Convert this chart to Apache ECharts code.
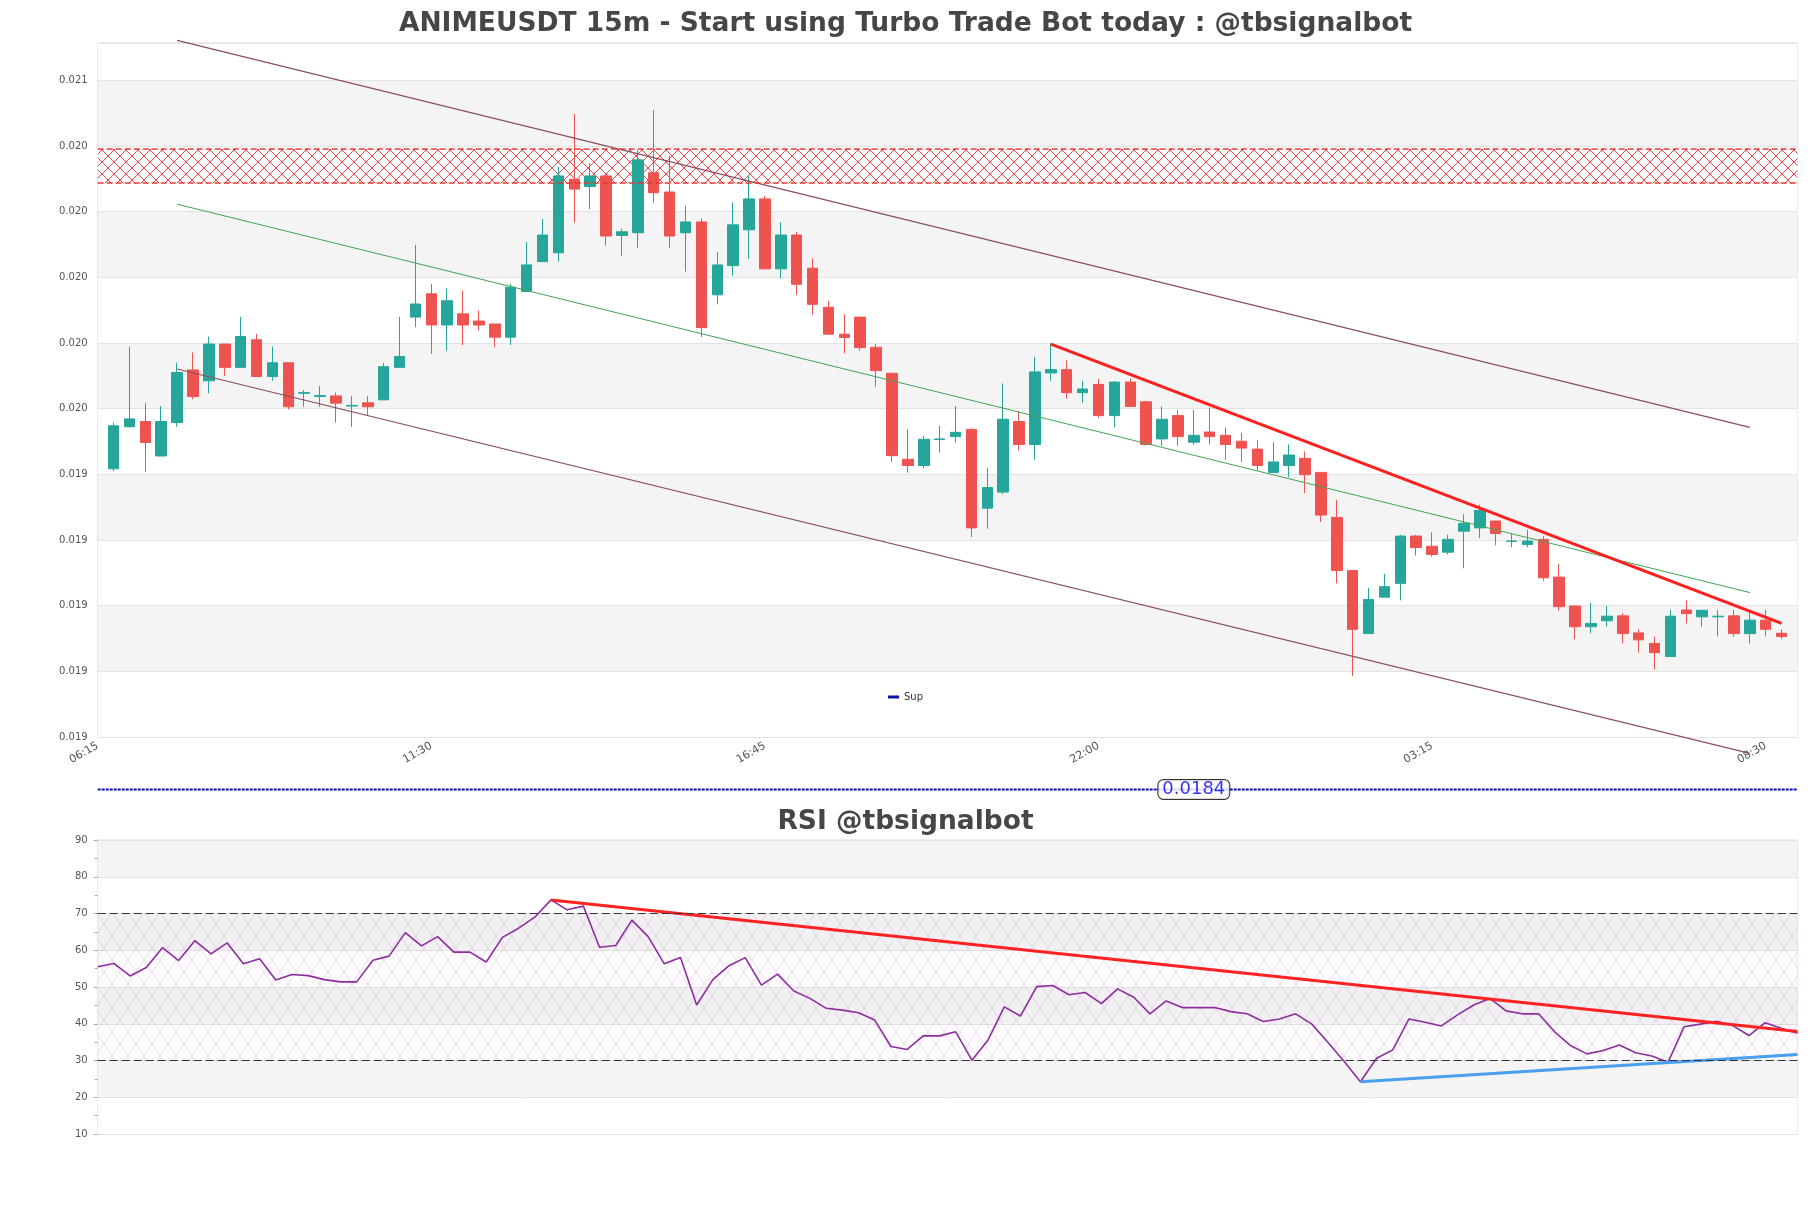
<!DOCTYPE html>
<html><head><meta charset="utf-8">
<script src="https://cdn.jsdelivr.net/npm/echarts/dist/echarts.min.js"></script>
<style>html,body{margin:0;padding:0;background:#fff}#c{width:1811px;height:1208px}</style>
</head><body><div id="c"></div>
<script>
// ---------- data ----------
const mainTitle = 'ANIMEUSDT 15m - Start using Turbo Trade Bot today : @tbsignalbot';
const rsiTitle = 'RSI @tbsignalbot';
const startTime = [6, 15];       // first axis slot 06:15
const stepMinutes = 15;
const slotCount = 108;           // axis slots on the price chart
const firstCandleSlot = 1;

const opens = [0.019417,0.019545,0.019561,0.019456,0.019558,0.019718,0.019685,0.019797,0.019726,0.019810,
 0.019698,0.019740,0.019647,0.019637,0.019639,0.019608,0.019618,0.019627,0.019726,0.019879,
 0.019950,0.019855,0.019889,0.019867,0.019858,0.019818,0.019957,0.020048,0.020075,0.020299,
 0.020277,0.020309,0.020128,0.020136,0.020319,0.020260,0.020136,0.020169,0.019947,0.020036,
 0.020145,0.020239,0.020026,0.020129,0.020028,0.019909,0.019827,0.019879,0.019787,0.019708,
 0.019446,0.019427,0.019506,0.019515,0.019537,0.019297,0.019346,0.019561,0.019491,0.019709,
 0.019719,0.019649,0.019674,0.019579,0.019681,0.019621,0.019508,0.019579,0.019498,0.019529,
 0.019519,0.019501,0.019477,0.019406,0.019427,0.019449,0.019406,0.019269,0.019107,0.018915,
 0.019026,0.019068,0.019212,0.019181,0.019163,0.019227,0.019237,0.019258,0.019196,0.019186,
 0.019202,0.019087,0.018999,0.018936,0.018954,0.018969,0.018917,0.018885,0.018845,0.018987,
 0.018966,0.018966,0.018969,0.018915,0.018956,0.018916];
const closes = [0.019548,0.019569,0.019497,0.019561,0.019710,0.019637,0.019797,0.019726,0.019820,0.019698,
 0.019740,0.019606,0.019649,0.019640,0.019617,0.019610,0.019606,0.019728,0.019759,0.019919,
 0.019855,0.019929,0.019855,0.019855,0.019818,0.019970,0.020038,0.020129,0.020309,0.020269,
 0.020309,0.020126,0.020139,0.020358,0.020258,0.020126,0.020169,0.019847,0.020038,0.020160,
 0.020239,0.020026,0.020129,0.019979,0.019918,0.019827,0.019817,0.019786,0.019716,0.019457,
 0.019427,0.019507,0.019508,0.019528,0.019237,0.019360,0.019568,0.019491,0.019712,0.019719,
 0.019649,0.019660,0.019579,0.019681,0.019607,0.019491,0.019568,0.019515,0.019519,0.019515,
 0.019491,0.019480,0.019427,0.019438,0.019459,0.019399,0.019276,0.019107,0.018928,0.019019,
 0.019058,0.019212,0.019177,0.019156,0.019202,0.019251,0.019290,0.019220,0.019197,0.019197,
 0.019085,0.018997,0.018936,0.018946,0.018968,0.018915,0.018896,0.018857,0.018968,0.018976,
 0.018986,0.018968,0.018915,0.018956,0.018928,0.018906];
const lows = [0.019410,0.019543,0.019407,0.019456,0.019545,0.019629,0.019647,0.019700,0.019726,0.019698,
 0.019685,0.019598,0.019606,0.019606,0.019558,0.019545,0.019578,0.019627,0.019726,0.019848,
 0.019767,0.019777,0.019794,0.019838,0.019787,0.019794,0.019957,0.020048,0.020048,0.020167,
 0.020208,0.020097,0.020066,0.020089,0.020228,0.020089,0.020018,0.019818,0.019918,0.020005,
 0.020056,0.020026,0.019997,0.019947,0.019886,0.019827,0.019769,0.019777,0.019667,0.019437,
 0.019405,0.019419,0.019466,0.019497,0.019209,0.019234,0.019339,0.019473,0.019445,0.019685,
 0.019631,0.019618,0.019572,0.019543,0.019607,0.019487,0.019487,0.019487,0.019491,0.019491,
 0.019445,0.019438,0.019410,0.019406,0.019392,0.019343,0.019255,0.019068,0.018786,0.018915,
 0.019026,0.019016,0.019153,0.019149,0.019156,0.019114,0.019206,0.019184,0.019178,0.019178,
 0.019076,0.018985,0.018898,0.018916,0.018936,0.018885,0.018857,0.018806,0.018845,0.018946,
 0.018936,0.018906,0.018906,0.018885,0.018906,0.018898];
const highs = [0.019558,0.019789,0.019618,0.019608,0.019740,0.019771,0.019820,0.019797,0.019880,0.019828,
 0.019789,0.019740,0.019657,0.019669,0.019649,0.019639,0.019639,0.019739,0.019880,0.020099,
 0.019980,0.019967,0.019960,0.019899,0.019858,0.019980,0.020108,0.020178,0.020337,0.020498,
 0.020348,0.020312,0.020148,0.020388,0.020510,0.020370,0.020218,0.020179,0.020077,0.020229,
 0.020312,0.020248,0.020168,0.020138,0.020058,0.019928,0.019888,0.019879,0.019797,0.019708,
 0.019537,0.019517,0.019548,0.019608,0.019540,0.019420,0.019677,0.019593,0.019758,0.019799,
 0.019747,0.019685,0.019691,0.019685,0.019691,0.019624,0.019607,0.019596,0.019596,0.019603,
 0.019543,0.019526,0.019505,0.019498,0.019491,0.019470,0.019406,0.019322,0.019107,0.019054,
 0.019097,0.019216,0.019216,0.019223,0.019216,0.019279,0.019308,0.019258,0.019220,0.019231,
 0.019212,0.019127,0.019001,0.019009,0.018999,0.018977,0.018928,0.018906,0.018987,0.019016,
 0.018986,0.018987,0.018987,0.018985,0.018987,0.018928];

const rsiValues = [55.5,56.4,53.0,55.3,60.7,57.2,62.6,59.0,62.0,56.3,
 57.7,51.9,53.4,53.1,52.0,51.4,51.4,57.3,58.4,64.8,
 61.2,63.7,59.5,59.5,56.8,63.5,66.0,69.0,73.7,71.0,
 72.0,60.8,61.3,68.2,63.7,56.3,58.0,45.1,52.0,55.8,
 58.0,50.5,53.5,48.9,46.9,44.2,43.7,43.0,41.0,33.8,
 33.0,36.7,36.7,37.8,30.1,35.6,44.6,42.1,50.1,50.4,
 47.9,48.5,45.5,49.5,47.2,42.7,46.2,44.4,44.4,44.4,
 43.3,42.7,40.6,41.3,42.7,39.9,34.9,29.7,24.2,30.6,
 32.9,41.3,40.4,39.4,42.4,45.1,46.9,43.5,42.7,42.7,
 37.8,34.0,31.8,32.7,34.2,32.1,31.2,29.5,39.2,39.9,
 40.7,39.5,36.8,40.3,38.8,37.4];

const priceTicks = {min: 0.0186, max: 0.020714, step: 0.0002};
const rsiTicks = {min: 10, max: 90, step: 10};
const rsiLevels = [70, 30];
const zoneTop = 0.020391, zoneBottom = 0.020287;
const supLevel = 0.01844;
const supLabelSlot = 69;
// trend lines: [slot, price]
const upperChannel = [[5, 0.020722], [104, 0.019543]];
const midChannel   = [[5, 0.020223], [104, 0.019040]];
const lowerChannel = [[5, 0.019721], [104, 0.018550]];
const resistLine   = [[60, 0.019797], [106, 0.018946]];
// RSI trend lines: [rsi index, value]
const rsiResist = [[28, 73.7], [105, 37.9]];
const rsiSupport = [[78, 24.2], [105, 31.6]];

// ---------- build ----------
function pad(n){return (n<10?'0':'')+n;}
const slotTimes = [];
for (let i = 0; i < slotCount; i++) {
  const m = (startTime[0]*60 + startTime[1] + i*stepMinutes) % 1440;
  slotTimes.push(pad(Math.floor(m/60)) + ':' + pad(m%60));
}
const candleData = opens.map((o, i) => [i + firstCandleSlot, o, closes[i], lows[i], highs[i]]);
const rsiTimes = slotTimes.slice(firstCandleSlot, firstCandleSlot + rsiValues.length);

function hatch(w, h, color, lw, bg) {
  const c = document.createElement('canvas');
  c.width = w; c.height = h;
  const ctx = c.getContext('2d');
  if (bg) { ctx.fillStyle = bg; ctx.fillRect(0,0,w,h); }
  ctx.strokeStyle = color; ctx.lineWidth = lw;
  for (const k of [-w, 0, w]) {
    ctx.beginPath(); ctx.moveTo(k, 0); ctx.lineTo(k + w, h); ctx.stroke();
    ctx.beginPath(); ctx.moveTo(k + w, 0); ctx.lineTo(k, h); ctx.stroke();
  }
  return c;
}
const redHatch = hatch(12, 12, 'rgba(225,30,30,0.8)', 1, '#ffffff');
const rsiHatch = hatch(16, 24, 'rgba(150,125,160,0.2)', 1, 'rgba(180,140,200,0.03)');

const FONT = 'DejaVu Sans';
const trend = (data, color, width) => ({
  type: 'line', xAxisIndex: 0, yAxisIndex: 0, data: data,
  symbol: 'none', clip: false, silent: true, z: 4,
  lineStyle: {color: color, width: width}
});
const rsiTrend = (data, color) => ({
  type: 'line', xAxisIndex: 1, yAxisIndex: 1, data: data,
  symbol: 'none', clip: false, silent: true, z: 4,
  lineStyle: {color: color, width: 3}
});

const chart = echarts.init(document.getElementById('c'), null, {renderer: 'canvas'});
chart.setOption({
  animation: false,
  backgroundColor: '#ffffff',
  textStyle: {fontFamily: FONT},
  title: [
    {text: mainTitle, left: 'center', top: 6,
     textStyle: {fontSize: 26.5, fontWeight: 'bold', color: '#464646', fontFamily: FONT}},
    {text: rsiTitle, left: 'center', top: 804,
     textStyle: {fontSize: 26.5, fontWeight: 'bold', color: '#464646', fontFamily: FONT}}
  ],
  legend: {data: ['Sup'], left: 'center', top: 687, icon: 'rect', itemWidth: 11, itemHeight: 3,
    itemGap: 10, textStyle: {fontSize: 10, color: '#333', fontFamily: FONT}},
  grid: [
    {left: 97.7, right: 13.5, top: 43, height: 694, show: true, borderColor: '#dadada', borderWidth: 1, outerBoundsMode: 'none'},
    {left: 97.7, right: 13.5, top: 840, height: 294, show: true, borderColor: '#dadada', borderWidth: 1, outerBoundsMode: 'none'}
  ],
  xAxis: [
    {type: 'category', gridIndex: 0, data: slotTimes, boundaryGap: false,
     axisLine: {show: false}, axisTick: {show: false}, splitLine: {show: false},
     axisLabel: {interval: 20, rotate: 30, fontSize: 11, color: '#555', margin: 8, fontFamily: FONT}},
    {type: 'category', gridIndex: 1, data: rsiTimes, boundaryGap: false,
     axisLine: {show: false}, axisTick: {show: false}, axisLabel: {show: false}, splitLine: {show: false}}
  ],
  yAxis: [
    {type: 'value', gridIndex: 0, min: priceTicks.min, max: priceTicks.max, interval: priceTicks.step,
     axisLine: {show: false}, axisTick: {show: false},
     axisLabel: {formatter: v => v.toFixed(3), showMaxLabel: false, fontSize: 10, color: '#555', margin: 10, fontFamily: FONT},
     splitLine: {show: true, lineStyle: {color: '#e3e3e3', width: 1}},
     splitArea: {show: true, areaStyle: {color: ['#ffffff', '#f4f4f4']}}},
    {type: 'value', gridIndex: 1, min: rsiTicks.min, max: rsiTicks.max, interval: rsiTicks.step,
     axisLine: {show: false},
     axisTick: {show: true, length: 4, lineStyle: {color: '#aaa'}},
     minorTick: {show: true, splitNumber: 2, length: 3, lineStyle: {color: '#aaa'}},
     axisLabel: {fontSize: 10, color: '#555', margin: 10, fontFamily: FONT},
     splitLine: {show: true, lineStyle: {color: '#e3e3e3', width: 1}},
     splitArea: {show: true, areaStyle: {color: ['#ffffff', '#f4f4f4']}}}
  ],
  series: [
    {type: 'line', name: 'zone', xAxisIndex: 0, yAxisIndex: 0, data: [], silent: true, z: 1,
     markArea: {silent: true, itemStyle: {color: {image: redHatch, repeat: 'repeat'}},
       data: [[{yAxis: zoneBottom}, {yAxis: zoneTop}]]},
     markLine: {silent: true, precision: 6, symbol: ['none', 'none'], label: {show: false},
       lineStyle: {color: '#e53935', type: [6, 3], width: 1.5},
       data: [{yAxis: zoneTop}, {yAxis: zoneBottom}]}
    },
    {type: 'candlestick', name: 'price', xAxisIndex: 0, yAxisIndex: 0, data: candleData,
     encode: {x: 0, y: [1, 2, 3, 4]}, barWidth: 11, z: 3,
     itemStyle: {color: '#26a69a', color0: '#ef5350', borderColor: '#26a69a', borderColor0: '#ef5350', borderWidth: 1}
    },
    trend(upperChannel, '#8b4f5e', 1.2),
    trend(lowerChannel, '#8b4f5e', 1.2),
    trend(midChannel, '#3fa553', 1),
    trend(resistLine, '#ff1f1f', 3),
    {type: 'line', name: 'Sup', xAxisIndex: 0, yAxisIndex: 0, data: [[0, supLevel], [slotCount - 1, supLevel]],
     symbol: 'none', clip: false, color: '#1010b0', z: 4,
     lineStyle: {color: '#1010b0', width: 2, type: [3, 1]}},
    {type: 'scatter', xAxisIndex: 0, yAxisIndex: 0, data: [[supLabelSlot, supLevel]], clip: false,
     symbolSize: 1, itemStyle: {color: 'rgba(0,0,0,0)'}, z: 6, silent: true,
     label: {show: true, position: 'inside', formatter: () => supLevel.toFixed(4),
       fontSize: 18, color: '#0000ee', fontFamily: FONT, backgroundColor: '#ffffff',
       borderColor: '#000', borderWidth: 1, borderRadius: 5, padding: [1, 4, 0, 4]}},
    {type: 'line', name: 'RSI', xAxisIndex: 1, yAxisIndex: 1, data: rsiValues, symbol: 'none', z: 3,
     lineStyle: {color: '#8e2d9e', width: 1.6},
     markArea: {silent: true, itemStyle: {color: {image: rsiHatch, repeat: 'repeat'}},
       data: [[{yAxis: rsiLevels[1]}, {yAxis: rsiLevels[0]}]]},
     markLine: {silent: true, symbol: ['none', 'none'], label: {show: false},
       lineStyle: {color: '#333', type: [8, 4], width: 1.2},
       data: rsiLevels.map(v => ({yAxis: v}))}
    },
    rsiTrend(rsiResist, '#ff2222'),
    rsiTrend(rsiSupport, '#4a9ff0')
  ]
});
</script></body></html>
